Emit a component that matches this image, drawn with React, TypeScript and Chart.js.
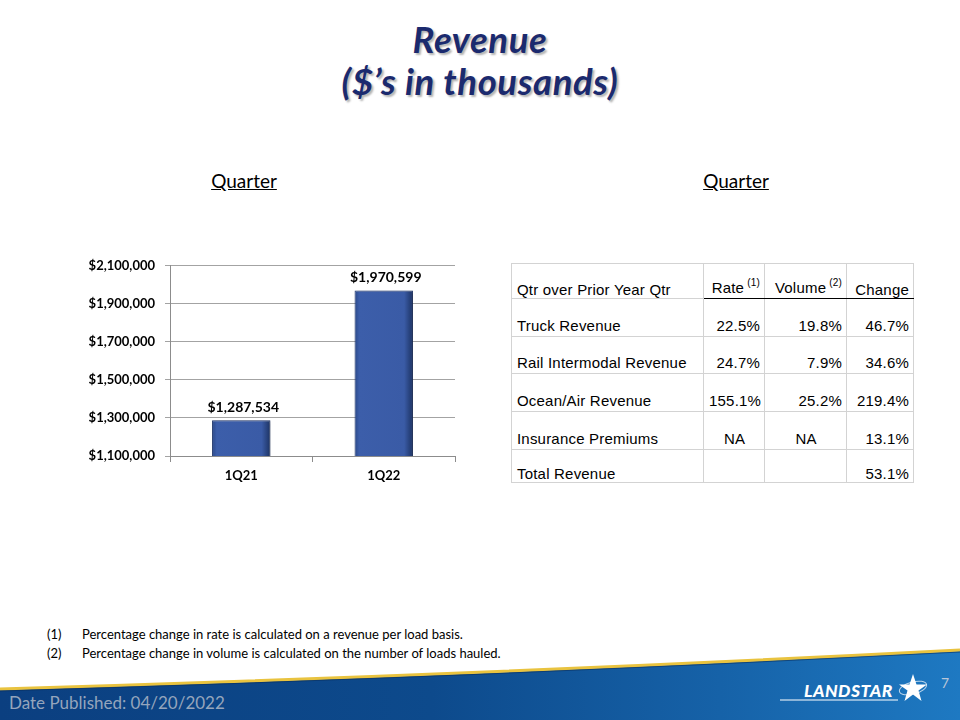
import React, { useEffect, useRef } from "react";
import { Chart, registerables } from "chart.js";

Chart.register(...registerables);

// ---- Data ----
const categories = ["1Q21", "1Q22"];
const revenue = [1287534, 1970599];
const yTicks = [1100000, 1300000, 1500000, 1700000, 1900000, 2100000];

const tableHeader = ["Qtr over Prior Year Qtr", "Rate", "Volume", "Change"];
const headerNotes = ["", "(1)", "(2)", ""];
const rowLabels = [
  "Truck Revenue",
  "Rail Intermodal Revenue",
  "Ocean/Air Revenue",
  "Insurance Premiums",
  "Total Revenue",
];
const rateValues = ["22.5%", "24.7%", "155.1%", "NA", ""];
const volumeValues = ["19.8%", "7.9%", "25.2%", "NA", ""];
const changeValues = ["46.7%", "34.6%", "219.4%", "13.1%", "53.1%"];

const footnotes = [
  ["(1)", "Percentage change in rate is calculated on a revenue per load basis."],
  ["(2)", "Percentage change in volume is calculated on the number of loads hauled."],
];

const fmtMoney = (v: number) => "$" + v.toLocaleString("en-US");

const BAR_PCT = 0.41;

const labelPlugin = {
  id: "barLabels",
  beforeDatasetsDraw(chart: any) {
    const ctx = chart.ctx;
    ctx.save();
    ctx.shadowColor = "rgba(0,0,0,0.35)";
    ctx.shadowOffsetX = 2;
    ctx.shadowOffsetY = 1;
    ctx.shadowBlur = 3;
  },
  afterDatasetsDraw(chart: any) {
    const ctx = chart.ctx;
    ctx.restore();
    const meta = chart.getDatasetMeta(0);
    ctx.save();
    ctx.font = "bold 14px Lato";
    ctx.fillStyle = "#000";
    ctx.textAlign = "center";
    ctx.textBaseline = "bottom";
    meta.data.forEach((bar: any, i: number) => {
      ctx.fillText(fmtMoney(revenue[i]), bar.x + 2, bar.y - 6);
    });
    ctx.restore();
  },
};

function RevenueChart() {
  const ref = useRef<HTMLCanvasElement | null>(null);
  useEffect(() => {
    if (!ref.current) return;
    const chart = new Chart(ref.current, {
      type: "bar",
      data: {
        labels: categories,
        datasets: [
          {
            data: revenue,
            backgroundColor: (c: any) => {
              const ch = c.chart;
              const xs = ch.scales && ch.scales.x;
              if (!xs || c.type !== "data" || !xs.width) return "#3A5CA6";
              const cx = xs.getPixelForValue(c.dataIndex);
              const w = (xs.width / categories.length) * BAR_PCT;
              const g = ch.ctx.createLinearGradient(cx - w / 2, 0, cx + w / 2, 0);
              g.addColorStop(0, "#2A4888");
              g.addColorStop(0.08, "#3C5EAA");
              g.addColorStop(0.85, "#3A5BA6");
              g.addColorStop(1, "#1C3262");
              return g;
            },
            borderColor: "#22396E",
            borderWidth: 1,
            barPercentage: BAR_PCT,
            categoryPercentage: 1,
          },
        ],
      },
      options: {
        responsive: false,
        animation: false,
        devicePixelRatio: 1,
        layout: { padding: { top: 15, right: 15, bottom: 12, left: 0 } },
        plugins: { legend: { display: false }, tooltip: { enabled: false } },
        scales: {
          x: {
            offset: true,
            grid: {
              display: true,
              drawOnChartArea: false,
              offset: true,
              tickLength: 6,
              color: "#8C8C8C",
            },
            border: { color: "#8C8C8C" },
            ticks: {
              font: { family: "Lato", weight: "bold", size: 13 },
              color: "#000",
              padding: 6,
            },
            afterFit: (s: any) => {
              s.height = 30;
            },
          },
          y: {
            min: 1100000,
            max: 2100000,
            afterBuildTicks: (s: any) => {
              s.ticks = yTicks.map((v) => ({ value: v }));
            },
            grid: { color: "#A3A3A3", tickLength: 5 },
            border: { color: "#8C8C8C" },
            ticks: {
              callback: (v: any) => fmtMoney(Number(v)),
              font: { family: "Lato", weight: "bold", size: 13 },
              color: "#000",
              padding: 10,
            },
            afterFit: (s: any) => {
              s.width = 110;
            },
          },
        },
      },
      plugins: [labelPlugin],
    } as any);
    return () => chart.destroy();
  }, []);
  return <canvas ref={ref} width={410} height={250} />;
}

const cellBase: React.CSSProperties = {
  border: "1px solid #D3D3D3",
  verticalAlign: "bottom",
  padding: "0 4px 2px 5px",
  lineHeight: "16px",
  whiteSpace: "nowrap",
};

function RevenueTable() {
  const rowHeights = [35, 38, 37, 38, 38, 33];
  const colWidths = [192, 61, 82, 67];
  return (
    <table
      style={{
        position: "absolute",
        left: 511,
        top: 263,
        width: 402,
        borderCollapse: "collapse",
        tableLayout: "fixed",
        fontFamily: "'Liberation Sans', Arial, sans-serif",
        fontSize: 15,
        letterSpacing: "0.2px",
        color: "#000",
      }}
    >
      <colgroup>
        {colWidths.map((w, i) => (
          <col key={i} style={{ width: w }} />
        ))}
      </colgroup>
      <tbody>
        <tr style={{ height: rowHeights[0] }}>
          {tableHeader.map((h, i) => (
            <td
              key={i}
              style={{
                ...cellBase,
                textAlign: i === 0 ? "left" : "right",
                borderBottom: i === 0 ? "1px solid #D3D3D3" : "1.5px solid #000",
                paddingBottom: 0,
              }}
            >
              {h}
              {headerNotes[i] ? (
                <span style={{ fontSize: 10, position: "relative", top: -7, marginLeft: 3 }}>
                  {headerNotes[i]}
                </span>
              ) : null}
            </td>
          ))}
        </tr>
        {rowLabels.map((r, i) => {
          const pb = i === rowLabels.length - 1 ? 0 : 2;
          return (
            <tr key={r} style={{ height: rowHeights[i + 1] }}>
              <td style={{ ...cellBase, paddingBottom: pb, textAlign: "left" }}>{r}</td>
              <td
                style={{
                  ...cellBase,
                  paddingBottom: pb,
                  textAlign: rateValues[i] === "NA" ? "center" : "right",
                }}
              >
                {rateValues[i]}
              </td>
              <td
                style={{
                  ...cellBase,
                  paddingBottom: pb,
                  textAlign: volumeValues[i] === "NA" ? "center" : "right",
                }}
              >
                {volumeValues[i]}
              </td>
              <td style={{ ...cellBase, paddingBottom: pb, textAlign: "right" }}>
                {changeValues[i]}
              </td>
            </tr>
          );
        })}
      </tbody>
    </table>
  );
}

function FooterBand() {
  return (
    <svg
      width={960}
      height={80}
      style={{ position: "absolute", left: 0, top: 640 }}
      viewBox="0 640 960 80"
    >
      <defs>
        <linearGradient id="band" x1="0" y1="0" x2="1" y2="0">
          <stop offset="0" stopColor="#0B3F80" />
          <stop offset="0.45" stopColor="#0D4A8C" />
          <stop offset="0.75" stopColor="#1662A8" />
          <stop offset="1" stopColor="#1E79C2" />
        </linearGradient>
      </defs>
      <path d="M0 690 Q480 676 960 651 L960 720 L0 720 Z" fill="url(#band)" />
      <path d="M0 689 Q480 675 960 650" stroke="#E9C33F" strokeWidth={3} fill="none" />
      <path d="M0 691 Q480 677 960 652" stroke="#0A2F5E" strokeWidth={1} fill="none" opacity={0.6} />
      <line x1={780} y1={700} x2={898} y2={700} stroke="#FFFFFF" strokeWidth={1.2} />
      <text
        x={804}
        y={697}
        fill="#FFFFFF"
        fontFamily="Lato"
        fontWeight="900"
        fontStyle="italic"
        fontSize={17.5}
        letterSpacing={0.5}
      >
        LANDSTAR
      </text>
      <polygon
        points="913,674 916.5,684.5 927,684.5 918.5,690.5 921.5,701 913,694.5 904.5,701 907.5,690.5 899,684.5 909.5,684.5"
        fill="#FFFFFF"
      />
      <ellipse
        cx={913}
        cy={688}
        rx={14}
        ry={6}
        fill="none"
        stroke="#FFFFFF"
        strokeWidth={1}
        opacity={0.7}
        transform="rotate(-15 913 688)"
      />
      <text x={941} y={688} fill="#B9C6D8" fontFamily="Lato" fontSize={14}>
        7
      </text>
      <text x={9} y={709} fill="#95A5BC" fontFamily="Lato" fontSize={17}>
        Date Published:  04/20/2022
      </text>
    </svg>
  );
}

export default function App() {
  useEffect(() => {
    document.body.style.margin = "0";
  }, []);
  return (
    <div
      style={{
        position: "fixed",
        left: 0,
        top: 0,
        width: 960,
        height: 720,
        background: "#FFFFFF",
        overflow: "hidden",
        fontFamily: "Lato, sans-serif",
      }}
    >
      <div
        style={{
          position: "absolute",
          left: 0,
          top: 18,
          width: 960,
          textAlign: "center",
          color: "#1B2A6E",
          fontWeight: 700,
          fontStyle: "italic",
          fontSize: 36.5,
          lineHeight: "42px",
          letterSpacing: "0.6px",
          textShadow: "2px 2px 2px rgba(0,0,0,0.3)",
        }}
      >
        <div>Revenue</div>
        <div>($’s in thousands)</div>
      </div>

      <div
        style={{
          position: "absolute",
          left: 144,
          top: 169,
          width: 200,
          textAlign: "center",
          fontSize: 19,
          textDecoration: "underline",
          color: "#000",
        }}
      >
        Quarter
      </div>
      <div
        style={{
          position: "absolute",
          left: 636,
          top: 169,
          width: 200,
          textAlign: "center",
          fontSize: 19,
          textDecoration: "underline",
          color: "#000",
        }}
      >
        Quarter
      </div>

      <div style={{ position: "absolute", left: 60, top: 248 }}>
        <RevenueChart />
      </div>

      <RevenueTable />

      <div
        style={{
          position: "absolute",
          left: 47,
          top: 625,
          fontSize: 13,
          lineHeight: "19px",
          color: "#000",
        }}
      >
        {footnotes.map(([n, t]) => (
          <div key={n} style={{ display: "flex" }}>
            <span style={{ width: 35 }}>{n}</span>
            <span>{t}</span>
          </div>
        ))}
      </div>

      <FooterBand />
    </div>
  );
}
